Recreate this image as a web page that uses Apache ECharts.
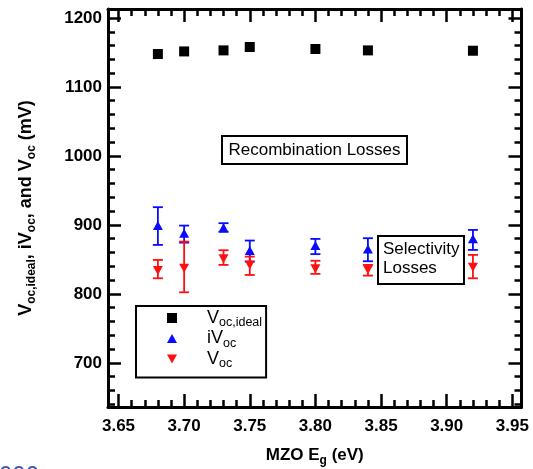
<!DOCTYPE html>
<html><head><meta charset="utf-8">
<script src="https://cdn.jsdelivr.net/npm/echarts@6/dist/echarts.min.js"></script>
<style>html,body{margin:0;padding:0;background:#fff}#c{width:533px;height:469px}</style>
</head><body><div id="c"></div>
<script>
// ---- data ----
const eg       = [3.68, 3.70, 3.73, 3.75, 3.80, 3.84, 3.92];
const vocIdeal = [1147.7, 1151.5, 1153, 1157.9, 1155, 1153, 1152.5];
const iVoc     = [899, 888, 896, 863, 870, 865, 880];
const iVocHi   = [925.7, 899, 902.5, 877.3, 879.7, 880.7, 892.7];
const iVocLo   = [871, 874.3, 890, 846.8, 857.6, 847.3, 863.7];
const voc      = [834, 837, 851, 842, 836.6, 835, 838.7];
const vocHi    = [849.2, 875.8, 863.3, 854, 848, 842, 856.5];
const vocLo    = [822.6, 802.3, 842, 827.4, 829, 826.5, 822.6];
const xMajor   = [3.65, 3.70, 3.75, 3.80, 3.85, 3.90, 3.95];
const yMajor   = [700, 800, 900, 1000, 1100, 1200];
const seriesNames = ['Voc,ideal', 'iVoc', 'Voc'];

const X_MIN = 3.642, X_MAX = 3.957, Y_MIN = 636, Y_MAX = 1213;
const xMinor = []; for (let i = 365; i <= 395; i++) if (i % 5) xMinor.push(i / 100);
const yMinor = []; for (let v = 640; v <= 1200; v += 20) if (v % 100) yMinor.push(v);

const FONT = '"Liberation Sans", Arial, Helvetica, sans-serif';
const BLUE = '#0a0aff', RED = '#ff1010';

function mkX(pos, ticks, len, line, labels) {
  return {type:'value', min:X_MIN, max:X_MAX, position:pos, gridIndex:0,
    axisLine:{show:line, onZero:false, lineStyle:{color:'#000', width:3}},
    axisTick:{show:true, inside:true, length:len, customValues:ticks, lineStyle:{color:'#000', width:2.5}},
    axisLabel:{show:labels, customValues:xMajor, margin:11, formatter:v=>Number(v).toFixed(2),
      fontSize:17, fontWeight:'bold', fontFamily:FONT, color:'#000'},
    splitLine:{show:false}, minorTick:{show:false}, minorSplitLine:{show:false}};
}
function mkY(pos, ticks, len, line, labels) {
  return {type:'value', min:Y_MIN, max:Y_MAX, position:pos, gridIndex:0,
    axisLine:{show:line, onZero:false, lineStyle:{color:'#000', width:3}},
    axisTick:{show:true, inside:true, length:len, customValues:ticks, lineStyle:{color:'#000', width:2.5}},
    axisLabel:{show:labels, customValues:yMajor, margin:6, formatter:v=>String(Math.round(v)),
      fontSize:17, fontWeight:'bold', fontFamily:FONT, color:'#000'},
    splitLine:{show:false}, minorTick:{show:false}, minorSplitLine:{show:false}};
}

const x0 = mkX('bottom', xMajor, 13, true, true);
x0.name = '{b|MZO E}{s|g}{b| (eV)}';
x0.nameLocation = 'middle';
x0.nameGap = 37;
x0.nameTextStyle = {color:'#000', fontFamily:FONT, fontWeight:'bold', fontSize:17,
  rich:{b:{fontSize:17, fontWeight:'bold', fontFamily:FONT, color:'#000', lineHeight:23},
        s:{fontSize:12, fontWeight:'bold', fontFamily:FONT, color:'#000', lineHeight:12, verticalAlign:'bottom'}}};
const y0 = mkY('left', yMajor, 13, true, true);
y0.name = '{b|V}{s|oc,ideal}{b|, iV}{s|oc}{b|, and V}{s|oc}{b| (mV)}';
y0.nameLocation = 'middle';
y0.nameGap = 70;
y0.nameTextStyle = {color:'#000', fontFamily:FONT, fontWeight:'bold', fontSize:18,
  rich:{b:{fontSize:18, fontWeight:'bold', fontFamily:FONT, color:'#000', lineHeight:24},
        s:{fontSize:12, fontWeight:'bold', fontFamily:FONT, color:'#000', lineHeight:12, verticalAlign:'bottom'}}};

function errRender(color) {
  return function (params, api) {
    const x = api.value(0), lo = api.value(1), hi = api.value(2);
    const a = api.coord([x, hi]), b = api.coord([x, lo]);
    const st = {stroke:color, lineWidth:1.8, fill:null};
    return {type:'group', children:[
      {type:'line', shape:{x1:a[0], y1:a[1], x2:b[0], y2:b[1]}, style:st},
      {type:'line', shape:{x1:a[0]-5, y1:a[1], x2:a[0]+5, y2:a[1]}, style:st},
      {type:'line', shape:{x1:b[0]-5, y1:b[1], x2:b[0]+5, y2:b[1]}, style:st}
    ]};
  };
}

const chart = echarts.init(document.getElementById('c'), null, {renderer:'canvas'});
chart.setOption({
  animation:false,
  backgroundColor:'#fff',
  grid:{left:108, right:11.5, top:9, bottom:62, containLabel:false, outerBoundsMode:'none'},
  xAxis:[x0, mkX('bottom', xMinor, 7, false, false), mkX('top', xMajor, 13, true, false), mkX('top', xMinor, 7, false, false)],
  yAxis:[y0, mkY('left', yMinor, 7, false, false), mkY('right', yMajor, 13, true, false), mkY('right', yMinor, 7, false, false)],
  legend:{
    data:seriesNames, orient:'vertical', left:136, top:306, selectedMode:false,
    itemWidth:10, itemHeight:10, itemGap:0,
    padding:[3, 4, 7, 31], borderColor:'#000', borderWidth:2, backgroundColor:'#fff',
    formatter:function (n) {
      if (n === 'Voc,ideal') return '{p|}{v|V}{s|oc,ideal}';
      if (n === 'iVoc') return '{p|}{v|iV}{s|oc}';
      return '{p|}{v|V}{s|oc}';
    },
    textStyle:{fontFamily:FONT, color:'#000', rich:{
      p:{width:25},
      v:{fontSize:18, lineHeight:23, fontFamily:FONT, color:'#000'},
      s:{fontSize:12.5, lineHeight:13, verticalAlign:'bottom', fontFamily:FONT, color:'#000'}}}
  },
  series:[
    {type:'custom', name:'iVocErr', silent:true, xAxisIndex:0, yAxisIndex:0, z:2,
     renderItem:errRender(BLUE), data:eg.map((x,i)=>[x, iVocLo[i], iVocHi[i]])},
    {type:'custom', name:'VocErr', silent:true, xAxisIndex:0, yAxisIndex:0, z:3,
     renderItem:errRender(RED), data:eg.map((x,i)=>[x, vocLo[i], vocHi[i]])},
    {type:'scatter', name:'Voc,ideal', xAxisIndex:0, yAxisIndex:0, z:5, symbol:'rect', symbolSize:10,
     itemStyle:{color:'#000', opacity:1}, data:eg.map((x,i)=>[x, vocIdeal[i]])},
    {type:'scatter', name:'iVoc', xAxisIndex:0, yAxisIndex:0, z:5, symbol:'path://M5,0 L10,9 L0,9 Z', symbolSize:[10,9],
     itemStyle:{color:BLUE, opacity:1}, data:eg.map((x,i)=>[x, iVoc[i]])},
    {type:'scatter', name:'Voc', xAxisIndex:0, yAxisIndex:0, z:5, symbol:'path://M0,0 L10,0 L5,9 Z', symbolSize:[10,9],
     itemStyle:{color:RED, opacity:1}, data:eg.map((x,i)=>[x, voc[i]])}
  ],
  graphic:[
    {type:'rect', z:10, shape:{x:222, y:136, width:185, height:28}, style:{fill:'#fff', stroke:'#000', lineWidth:2}},
    {type:'text', z:11, x:314.5, y:150.5, style:{text:'Recombination Losses', font:'17px ' + FONT, fill:'#000',
      align:'center', verticalAlign:'middle', textAlign:'center', textVerticalAlign:'middle'}},
    {type:'rect', z:10, shape:{x:378, y:236, width:86, height:48}, style:{fill:'#fff', stroke:'#000', lineWidth:2}},
    {type:'text', z:11, x:383, y:259, style:{text:'Selectivity\nLosses', font:'17px ' + FONT, fill:'#000', lineHeight:19,
      align:'left', verticalAlign:'middle', textAlign:'left', textVerticalAlign:'middle'}},
    {type:'text', z:11, x:-1, y:476, style:{text:'000', font:'24px ' + FONT, fill:'#3a4fb5',
      align:'left', verticalAlign:'middle', textAlign:'left', textVerticalAlign:'middle'}}
  ]
});
</script>
</body></html>
